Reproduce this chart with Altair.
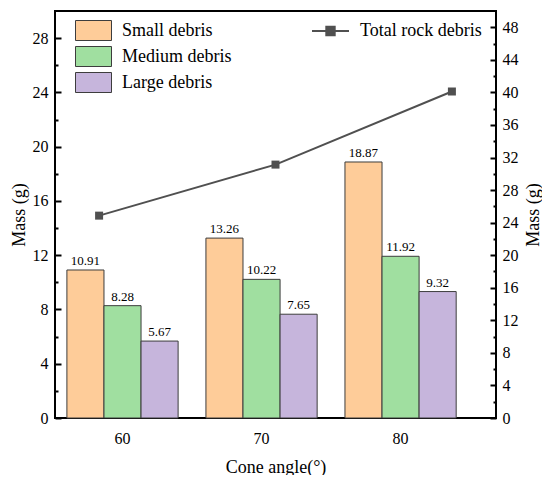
import altair as alt
import pandas as pd

# ---- data ----
angles = ["60", "70", "80"]
series = ["Small debris", "Medium debris", "Large debris"]
small = [10.91, 13.26, 18.87]
medium = [8.28, 10.22, 11.92]
large = [5.67, 7.65, 9.32]
total_angles = [60, 70, 80]
total = [24.86, 31.13, 40.11]
total_name = "Total rock debris"
colors = ["#FECC99", "#A0DFA0", "#C6B5DC"]
left_major = [0, 4, 8, 12, 16, 20, 24, 28]
left_minor = [2, 6, 10, 14, 18, 22, 26]
right_major = [0, 4, 8, 12, 16, 20, 24, 28, 32, 36, 40, 44, 48]
right_minor = [2, 6, 10, 14, 18, 22, 26, 30, 34, 38, 42, 46]

FONT = "Liberation Serif"

rows = []
for i, a in enumerate(angles):
    for s, vals in zip(series, [small, medium, large]):
        rows.append({"angle": a, "series": s, "mass": vals[i]})
bars_df = pd.DataFrame(rows)
line_df = pd.DataFrame({"angle": total_angles, "total": total, "name": [total_name] * 3})

x_band = alt.Scale(domain=angles, paddingInner=0.2, paddingOuter=0.186, align=0.23)
xoff = alt.Scale(domain=series, paddingInner=0, paddingOuter=0)
y_left = alt.Scale(domain=[0, 30], nice=False)
y_right = alt.Scale(domain=[0, 50], nice=False)
x_line = alt.Scale(domain=[57.5, 82.5], nice=False, zero=False)

rect_path = "M-1.8,-1L1.8,-1L1.8,1L-1.8,1Z"
line_path = "M-1.85,0L1.85,0M-0.42,-0.42L0.42,-0.42L0.42,0.42L-0.42,0.42Z"

base_bars = alt.Chart(bars_df).encode(
    x=alt.X("angle:N", scale=x_band,
            axis=alt.Axis(title="Cone angle(°)", labelAngle=0, ticks=False, domain=False,
                          labelPadding=12, titlePadding=12, labelFontSize=16, titleFontSize=18,
                          labelFont=FONT, titleFont=FONT)),
    xOffset=alt.XOffset("series:N", scale=xoff),
)

bars = base_bars.mark_bar(stroke="#3d3d3d", strokeWidth=1).encode(
    y=alt.Y("mass:Q", scale=y_left,
            axis=alt.Axis(orient="left", values=left_major, tickSize={"expr": "-6"}, tickWidth=2,
                          domain=False, labelPadding=13, labelFontSize=16, labelFont=FONT,
                          title="Mass (g)", titleFontSize=18, titleFont=FONT, titlePadding=4)),
    color=alt.Color("series:N", scale=alt.Scale(domain=series, range=colors),
                    legend=alt.Legend(title=None, orient="none", legendX=28, legendY=9,
                                      symbolType=rect_path, symbolSize=400,
                                      symbolStrokeColor="#3d3d3d", symbolStrokeWidth=1,
                                      labelOffset=18, rowPadding=1, labelFontSize=18,
                                      labelFont=FONT, padding=0)),
)

labels = base_bars.mark_text(baseline="bottom", dy=-2, fontSize=13, font=FONT, color="black").encode(
    y=alt.Y("mass:Q", scale=y_left,
            axis=alt.Axis(orient="left", values=left_minor, tickSize={"expr": "-3"}, tickWidth=2,
                          labels=False, domain=False, title=None)),
    text=alt.Text("mass:Q", format=".2f"),
)

left_part = alt.layer(bars, labels).resolve_axis(y="independent")

line = alt.Chart(line_df).mark_line(strokeWidth=2).encode(
    x=alt.X("angle:Q", scale=x_line, axis=None),
    y=alt.Y("total:Q", scale=y_right,
            axis=alt.Axis(orient="right", values=right_major, tickSize={"expr": "-6"}, tickWidth=2,
                          domain=False, labelPadding=12, labelFontSize=16, labelFont=FONT,
                          title="Mass (g)", titleFontSize=18, titleFont=FONT, titlePadding=6,
                          titleAngle=270, titleBaseline="top")),
    color=alt.Color("name:N", scale=alt.Scale(domain=[total_name], range=["#505050"]),
                    legend=alt.Legend(title=None, orient="none", legendX=264.5, legendY=9,
                                      symbolType=line_path, symbolSize=400, symbolStrokeWidth=2,
                                      symbolFillColor="#505050", labelOffset=18.5,
                                      labelFontSize=18, labelFont=FONT, padding=0)),
)

points = alt.Chart(line_df).mark_square(size=64, opacity=1).encode(
    x=alt.X("angle:Q", scale=x_line, axis=None),
    y=alt.Y("total:Q", scale=y_right,
            axis=alt.Axis(orient="right", values=right_minor, tickSize={"expr": "-3"}, tickWidth=2,
                          labels=False, domain=False, title=None)),
    color=alt.value("#505050"),
)

right_part = alt.layer(line, points).resolve_axis(y="independent")

chart = alt.layer(left_part, right_part).resolve_scale(
    x="independent", y="independent", color="independent"
).resolve_axis(
    x="independent", y="independent"
).properties(
    width=441, height=407,
    padding={"left": 47, "top": 3, "right": 46, "bottom": 57},
    autosize=alt.AutoSizeParams(type="none"),
    background="white",
).configure(
    font=FONT
).configure_view(
    stroke="black", strokeWidth=2
).configure_axis(
    labelFont=FONT, titleFont=FONT, labelColor="black", titleColor="black",
    tickColor="black", titleFontWeight="normal", grid=False
).configure_legend(
    labelColor="black", labelFont=FONT
)

chart.save("out.html", embed_options={"renderer": "svg", "actions": False})
